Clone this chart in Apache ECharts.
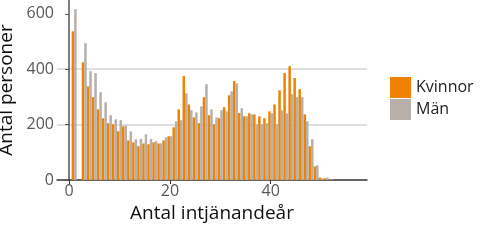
<!DOCTYPE html>
<html><head><meta charset="utf-8">
<script src="https://cdn.jsdelivr.net/npm/echarts@6/dist/echarts.min.js"></script>
<style>html,body{margin:0;padding:0;background:#fff}#c{width:480px;height:240px}</style>
</head><body><div id="c"></div>
<script>
const years = [1,3,4,5,6,7,8,9,10,11,12,13,14,15,16,17,18,19,20,21,22,23,24,25,26,27,28,29,30,31,32,33,34,35,36,37,38,39,40,41,42,43,44,45,46,47,48,49,50,51,52];
const kvinnor = [537,425,338,299,255,223,205,201,176,194,143,136,122,132,129,136,132,143,158,190,255,375,273,226,205,299,234,201,223,263,306,357,241,230,241,237,230,223,248,273,324,386,411,368,328,237,122,49,9,6,2];
const man = [617,494,393,386,317,281,234,219,216,197,176,147,148,165,148,140,132,154,158,212,216,313,252,244,266,346,255,226,252,248,320,349,259,230,237,201,201,205,241,201,252,241,310,299,299,212,147,53,6,9,2];
const seriesNames = ['Kvinnor','Män'];
const xTicks = [0,20,40];
const yTicks = [0,200,400,600];

const FONT = 'Open Sans';
const chart = echarts.init(document.getElementById('c'), null, {renderer:'canvas'});
chart.setOption({
  animation:false,
  textStyle:{fontFamily:FONT},
  grid:{left:57,right:113,top:0,bottom:60,containLabel:false,outerBoundsMode:'none'},
  legend:{
    orient:'vertical', left:385, top:72, itemWidth:21, itemHeight:21, itemGap:1,
    icon:'rect',
    textStyle:{fontSize:16,color:'#222',fontFamily:FONT},
    data:seriesNames
  },
  xAxis:{
    type:'value', min:-2.4, max:59.1,
    name:'Antal intjänandeår', nameLocation:'middle', nameGap:14,
    nameTextStyle:{fontSize:19,color:'#111',fontFamily:FONT},
    axisLine:{show:true,lineStyle:{color:'#333',width:1.5}},
    axisTick:{show:true,length:4,customValues:xTicks,lineStyle:{color:'#333'}},
    axisLabel:{customValues:xTicks,fontSize:16,color:'#595959',margin:3,fontFamily:FONT},
    splitLine:{show:false}
  },
  yAxis:{
    type:'value', min:0, max:650, interval:200,
    name:'Antal personer', nameLocation:'middle', nameGap:35,
    nameTextStyle:{fontSize:19,color:'#111',fontFamily:FONT},
    axisLine:{show:true,lineStyle:{color:'#555',width:1.5}},
    axisTick:{show:true,length:4,customValues:yTicks,lineStyle:{color:'#555'}},
    axisLabel:{customValues:yTicks,fontSize:16,color:'#595959',margin:3,fontFamily:FONT},
    splitLine:{show:true,showMinLine:false,showMaxLine:false,lineStyle:{color:'#d6d6d6',width:1.5}}
  },
  series:[
    {name:seriesNames[0],type:'bar',barWidth:2.5,barGap:'0%',itemStyle:{color:'#EF8200'},
     data:years.map((y,i)=>[y,kvinnor[i]])},
    {name:seriesNames[1],type:'bar',barWidth:2.5,barGap:'0%',itemStyle:{color:'#B7AFA9'},
     data:years.map((y,i)=>[y,man[i]])}
  ]
});
</script></body></html>
